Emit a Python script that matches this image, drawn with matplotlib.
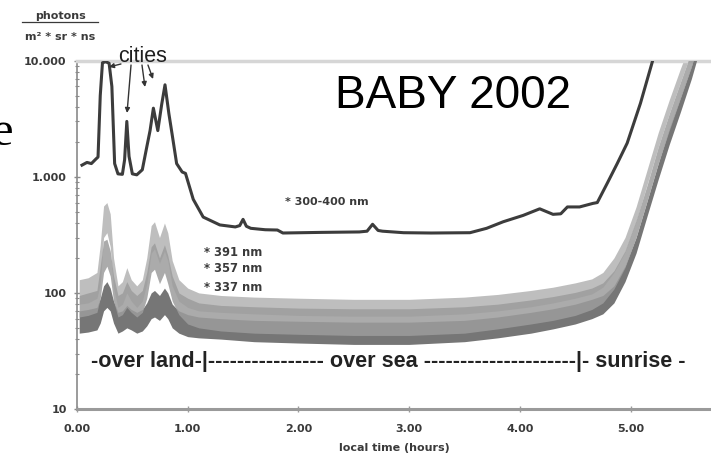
import matplotlib
matplotlib.use("Agg")
import matplotlib.pyplot as plt
from matplotlib.lines import Line2D
from matplotlib.ticker import FixedLocator, FixedFormatter, LogLocator, NullFormatter

# broadband 300-400 nm signal (photons / m^2 / sr / ns)
t_broad = [0.045, 0.09, 0.13, 0.17, 0.19, 0.21, 0.23, 0.26, 0.29, 0.315, 0.34,
           0.37, 0.41, 0.43, 0.45, 0.47, 0.50, 0.54, 0.59, 0.63, 0.66, 0.69,
           0.73, 0.765, 0.795, 0.83, 0.86, 0.90, 0.95, 0.98, 1.05, 1.14, 1.29,
           1.43, 1.47, 1.50, 1.53, 1.57, 1.70, 1.81, 1.86, 2.20, 2.55, 2.62,
           2.67, 2.72, 2.76, 2.95, 3.20, 3.55, 3.70, 3.85, 4.03, 4.18, 4.30,
           4.37, 4.43, 4.54, 4.66, 4.70, 4.79, 4.88, 4.97, 5.09, 5.20, 5.23]
v_broad = [1260, 1330, 1300, 1420, 1480, 5000, 9600, 9800, 9500, 6000, 1300,
           1060, 1050, 1400, 3000, 1500, 1060, 1040, 1150, 1800, 2500, 3900,
           2500, 4200, 6200, 3500, 2300, 1300, 1100, 1070, 640, 450, 385,
           370, 380, 430, 375, 360, 350, 348, 328, 332, 335, 340,
           390, 345, 340, 330, 328, 330, 360, 410, 465, 530, 475,
           480, 550, 550, 590, 600, 880, 1300, 1950, 4300, 10000, 12000]

# narrow-band channels: spread of the measured points (upper / lower)
t_uv = [0.02, 0.10, 0.18, 0.21, 0.24, 0.27, 0.30, 0.33, 0.37, 0.41, 0.45,
        0.49, 0.54, 0.59, 0.63, 0.67, 0.70, 0.745, 0.79, 0.82, 0.86, 0.92,
        1.00, 1.10, 1.30, 1.60, 2.00, 2.50, 3.00, 3.50, 3.80, 4.10, 4.30,
        4.50, 4.65, 4.75, 4.85, 4.95, 5.05, 5.15, 5.25, 5.35, 5.45, 5.55, 5.62]
hi_391 = [130, 135, 150, 260, 560, 600, 480, 200, 115, 125, 165,
          130, 115, 130, 200, 380, 410, 300, 400, 330, 190, 130,
          110, 100, 95, 92, 90, 88, 88, 92, 97, 105, 112,
          122, 132, 150, 200, 300, 550, 1150, 2400, 4600, 8500, 15000, 25000]
lo_391 = [80, 82, 90, 120, 300, 330, 250, 110, 75, 80, 100,
          85, 75, 85, 120, 220, 240, 180, 230, 190, 115, 85,
          75, 70, 68, 66, 64, 63, 63, 66, 70, 76, 82,
          90, 98, 112, 150, 225, 410, 860, 1800, 3500, 6500, 12000, 20000]
hi_357 = [95, 100, 105, 170, 280, 290, 230, 140, 95, 100, 125,
          105, 95, 105, 150, 250, 270, 200, 260, 210, 140, 100,
          90, 82, 78, 76, 74, 73, 73, 76, 80, 87, 93,
          101, 110, 122, 155, 230, 420, 850, 1800, 3500, 6500, 12000, 20000]
lo_357 = [62, 64, 68, 90, 150, 170, 140, 85, 62, 65, 75,
          68, 62, 68, 90, 150, 160, 120, 150, 120, 85, 65,
          54, 50, 47, 45, 44, 43, 43, 45, 49, 54, 58,
          64, 72, 82, 108, 165, 300, 620, 1300, 2500, 4700, 8800, 15000]
hi_337 = [70, 72, 75, 90, 115, 125, 110, 85, 68, 70, 78,
          72, 68, 72, 82, 100, 105, 95, 110, 100, 80, 70,
          65, 62, 60, 58, 57, 56, 56, 58, 62, 68, 73,
          80, 88, 95, 115, 170, 300, 620, 1300, 2600, 4800, 9000, 15000]
lo_337 = [45, 46, 48, 55, 70, 75, 70, 55, 45, 47, 50,
          48, 45, 47, 52, 60, 62, 58, 65, 60, 50, 45,
          42, 41, 40, 38, 37, 36, 36, 38, 41, 45, 49,
          54, 60, 66, 82, 125, 220, 460, 950, 1900, 3600, 7000, 12000]

x_ticks = [0, 1, 2, 3, 4, 5]
x_ticklabels = ["0.00", "1.00", "2.00", "3.00", "4.00", "5.00"]
y_ticks = [10, 100, 1000, 10000]
y_ticklabels = ["10", "100", "1.000", "10.000"]

W, H = 711, 461
FONT = "Liberation Sans"
CHART_FONT = "DejaVu Sans"
TXT = "#3a3a3a"


def fx(px):
    return px / W


def fy(py):
    return 1 - py / H


fig = plt.figure(figsize=(W / 100, H / 100), dpi=100)
ax = fig.add_axes([fx(77), fy(409), (711 - 77) / W, (409 - 60.7) / H])
ax.set_yscale("log")
ax.set_xlim(0, (711 - 77) / 110.7)
ax.set_ylim(10, 10000)

# channel spreads; 357 nm sits over the 337 nm spread at sea
ax.fill_between(t_uv, lo_391, hi_391, color="#bebebe", lw=0, zorder=2)
ax.fill_between(t_uv, lo_337, hi_337, color="#767676", lw=0, zorder=3)
ax.fill_between(t_uv, lo_357, hi_357, color="#9c9c9c", lw=0, zorder=4,
                alpha=0.85)

ax.plot(t_broad, v_broad, color="#3c3c3c", lw=2.2, zorder=5,
        solid_joinstyle="round")

# axes styling
ax.spines["right"].set_visible(False)
ax.spines["top"].set_color("#d6d6d6")
ax.spines["top"].set_linewidth(2.5)
ax.spines["left"].set_color("#8a8a8a")
ax.spines["left"].set_linewidth(1.2)
ax.spines["bottom"].set_color("#9a9a9a")
ax.spines["bottom"].set_linewidth(2.2)

ax.xaxis.set_major_locator(FixedLocator(x_ticks))
ax.xaxis.set_major_formatter(FixedFormatter(x_ticklabels))
ax.yaxis.set_major_locator(FixedLocator(y_ticks))
ax.yaxis.set_major_formatter(FixedFormatter(y_ticklabels))
ax.yaxis.set_minor_locator(LogLocator(base=10, subs=range(2, 10)))
ax.yaxis.set_minor_formatter(NullFormatter())

ax.tick_params(axis="y", which="major", direction="inout", length=5,
               width=1, color="#8a8a8a", pad=5, labelsize=8,
               labelcolor=TXT)
ax.tick_params(axis="y", which="minor", direction="inout", length=3.5,
               width=0.8, color="#8a8a8a")
ax.tick_params(axis="x", which="major", direction="inout", length=4,
               width=1, color="#9a9a9a", pad=9, labelsize=8,
               labelcolor=TXT)
for lab in ax.get_xticklabels() + ax.get_yticklabels():
    lab.set_fontfamily(CHART_FONT)
    lab.set_fontweight("bold")

ax.set_xlabel("local time (hours)", fontsize=8, fontweight="bold",
              family=CHART_FONT, color=TXT, labelpad=6)

# unit label
fig.text(fx(60), fy(16), "photons", ha="center", va="center", fontsize=8,
         fontweight="bold", family=CHART_FONT, color=TXT)
fig.add_artist(Line2D([fx(22), fx(98)], [fy(22), fy(22)], color=TXT,
                      lw=0.9, transform=fig.transFigure))
fig.text(fx(60), fy(37), "m² * sr * ns", ha="center", va="center",
         fontsize=8, fontweight="bold", family=CHART_FONT, color=TXT)

# series labels
fig.text(fx(285), fy(202), "* 300-400 nm", ha="left", va="center",
         fontsize=8, fontweight="bold", family=CHART_FONT, color=TXT)
for py, txt in [(252, "* 391 nm"), (269, "* 357 nm"), (287, "* 337 nm")]:
    fig.text(fx(204), fy(py), txt, ha="left", va="center", fontsize=8.3,
             fontweight="bold", family=CHART_FONT, color=TXT)

fig.text(fx(335), fy(108), "BABY 2002", ha="left", va="baseline",
         fontsize=33, family=FONT, color="black")

fig.text(fx(143), fy(62), "cities", ha="center", va="baseline",
         fontsize=15.5, family=FONT, color="#1e1e1e")

arrow_kw = dict(arrowstyle="-|>", color="#333333", lw=1.0, mutation_scale=7,
                shrinkA=0, shrinkB=0)
for (xt, yt), (xh, yh) in [((0.397, 9370), (0.289, 8830)),
                           ((0.488, 9180), (0.452, 3546)),
                           ((0.587, 9180), (0.614, 5937)),
                           ((0.641, 9180), (0.687, 6954))]:
    ax.annotate("", xy=(xh, yh), xytext=(xt, yt), arrowprops=arrow_kw,
                annotation_clip=False, zorder=6)

# flight phases
phase = ("-over land-|" + "-" * 16 + " over sea " + "-" * 21 + "|- sunrise -")
fig.text(fx(91), fy(361), phase, ha="left", va="center", fontsize=15.6,
         fontweight="bold", family=FONT, color="#222222")

# slide text running off the left edge
fig.text(fx(-9), fy(145), "e", ha="left", va="baseline", fontsize=35,
         family="Liberation Serif", color="black")

fig.savefig("out.png", dpi=100)
